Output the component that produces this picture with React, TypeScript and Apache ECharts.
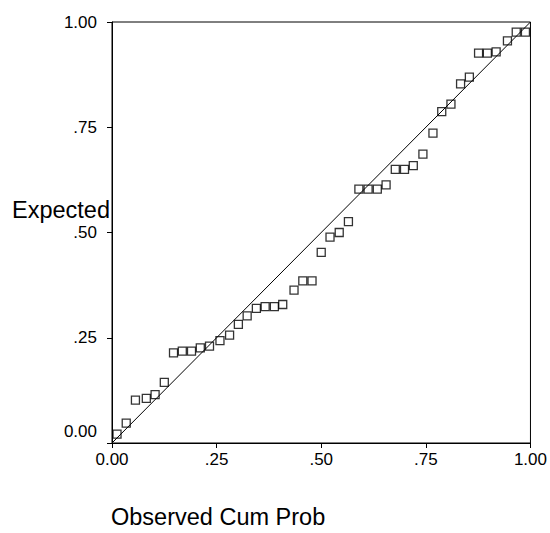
import React, { useEffect, useRef } from "react";
import * as echarts from "echarts";

const observedCumProb = [
  0.012, 0.034, 0.056, 0.082, 0.103, 0.125, 0.147, 0.168, 0.19, 0.211,
  0.233, 0.258, 0.281, 0.302, 0.323, 0.345, 0.366, 0.388, 0.408, 0.435,
  0.456, 0.478, 0.5, 0.521, 0.543, 0.565, 0.59, 0.612, 0.634, 0.655,
  0.677, 0.699, 0.72, 0.743, 0.767, 0.788, 0.81, 0.833, 0.854, 0.876,
  0.897, 0.918, 0.945, 0.966, 0.988,
];
const expectedCumProb = [
  0.021, 0.047, 0.102, 0.106, 0.115, 0.144, 0.214, 0.218, 0.218, 0.226,
  0.23, 0.243, 0.256, 0.282, 0.302, 0.32, 0.324, 0.324, 0.329, 0.363,
  0.385, 0.385, 0.453, 0.489, 0.5, 0.526, 0.603, 0.603, 0.603, 0.613,
  0.65, 0.65, 0.659, 0.686, 0.736, 0.787, 0.805, 0.853, 0.869, 0.926,
  0.926, 0.929, 0.955, 0.976, 0.976,
];
const referenceLine = [
  [0, 0],
  [1, 1],
];
const tickLabels: Record<string, string> = {
  "0": "0.00",
  "0.25": ".25",
  "0.5": ".50",
  "0.75": ".75",
  "1": "1.00",
};
const xTitle = "Observed Cum Prob";
const yTitle = "Expected";

const FONT = "'Liberation Sans', Arial, Helvetica, sans-serif";

export default function App() {
  const ref = useRef<HTMLDivElement>(null);
  useEffect(() => {
    document.body.style.margin = "0";
    if (!ref.current) return;
    const chart = echarts.init(ref.current, null, { renderer: "svg" });
    const points = observedCumProb.map((x, i) => [x, expectedCumProb[i]]);
    const axisCommon = {
      type: "value" as const,
      min: 0,
      max: 1,
      interval: 0.25,
      splitLine: { show: false },
      axisLine: { show: true, lineStyle: { color: "#000", width: 1 } },
      axisTick: { show: true, length: 5, lineStyle: { color: "#000", width: 1 } },
    };
    chart.setOption({
      animation: false,
      backgroundColor: "#fff",
      grid: {
        left: 112,
        right: 19,
        top: 22,
        bottom: 90,
        show: true,
        borderColor: "#000",
        borderWidth: 1,
      },
      xAxis: {
        ...axisCommon,
        axisLabel: {
          color: "#000",
          fontSize: 17,
          fontFamily: FONT,
          margin: 8,
          formatter: (v: number) => tickLabels[String(v)] ?? "",
        },
      },
      yAxis: {
        ...axisCommon,
        axisLabel: {
          color: "#000",
          fontSize: 17,
          fontFamily: FONT,
          margin: 15,
          formatter: (v: number) =>
            v === 0 ? "{low|0.00}" : tickLabels[String(v)] ?? "",
          rich: {
            low: {
              fontSize: 17,
              fontFamily: FONT,
              color: "#000",
              padding: [0, 0, 24, 0],
            },
          },
        },
      },
      graphic: [
        {
          type: "text",
          left: 12,
          top: 198,
          style: {
            text: yTitle,
            fontSize: 23.5,
            fontFamily: FONT,
            fill: "#000",
          },
        },
        {
          type: "text",
          left: 111,
          top: 505,
          style: {
            text: xTitle,
            fontSize: 23.5,
            fontFamily: FONT,
            fill: "#000",
          },
        },
      ],
      series: [
        {
          type: "line",
          data: referenceLine,
          symbol: "none",
          silent: true,
          lineStyle: { color: "#000", width: 1 },
          z: 2,
        },
        {
          type: "scatter",
          data: points,
          symbol: "rect",
          symbolSize: 8,
          itemStyle: {
            color: "rgba(0,0,0,0)",
            borderColor: "#000",
            borderWidth: 1.3,
          },
          z: 3,
        },
      ],
    });
    return () => chart.dispose();
  }, []);
  return <div ref={ref} style={{ width: 550, height: 533 }} />;
}
